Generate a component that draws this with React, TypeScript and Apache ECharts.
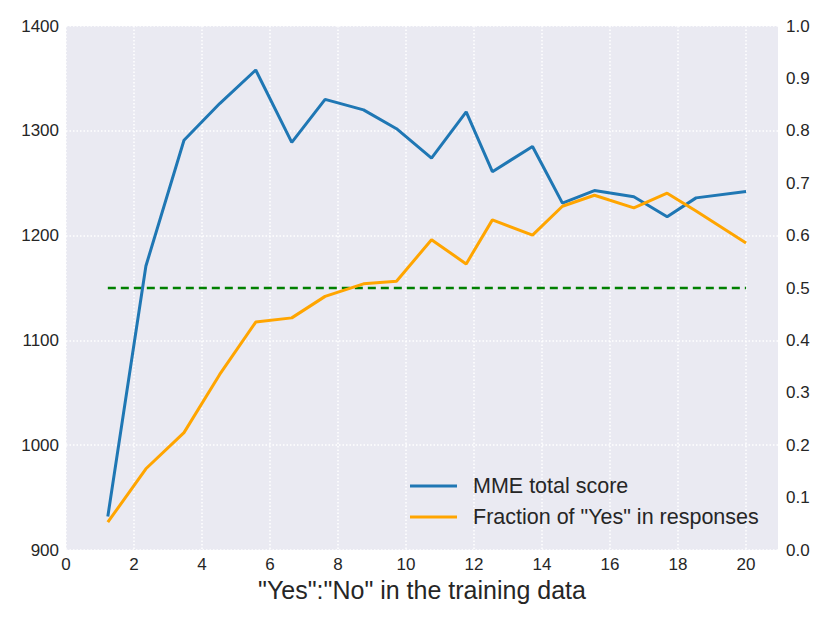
import React, { useEffect, useRef } from "react";
import * as echarts from "echarts";

const ratioX = [1.23, 2.35, 3.47, 4.52, 5.58, 6.64, 7.62, 8.75, 9.72, 10.75, 11.77, 12.54, 13.72, 14.16, 14.6, 15.54, 16.7, 17.68, 18.53, 20.0];
const mmeScore = [932, 1171, 1291, 1326, 1358, 1289, 1330, 1320, 1302, 1274, 1318, 1261, 1285, 1258, 1231, 1243, 1237, 1218, 1236, 1242];
const fracX = [1.23, 2.35, 3.47, 4.52, 5.58, 6.64, 7.62, 8.75, 9.72, 10.75, 11.77, 12.54, 13.72, 14.6, 15.54, 16.7, 17.68, 18.53, 20.0];
const fracYes = [0.053, 0.155, 0.224, 0.335, 0.435, 0.443, 0.484, 0.508, 0.513, 0.592, 0.546, 0.63, 0.601, 0.656, 0.677, 0.653, 0.681, 0.647, 0.586];
const refX = [1.23, 20.0];
const refY = [0.5, 0.5];

const seriesNames = ["MME total score", 'Fraction of "Yes" in responses'];
const xAxisTitle = '"Yes":"No" in the training data';

const FONT = "'Liberation Sans', Arial, sans-serif";
const TXT = "#262626";

export default function App() {
  const ref = useRef<HTMLDivElement>(null);
  useEffect(() => {
    if (!ref.current) return;
    const chart = echarts.init(ref.current, undefined, { renderer: "svg" });
    const gridLine = { show: true, lineStyle: { color: "#ffffff", width: 1.5, type: [1.5, 2] as any } };
    chart.setOption({
      animation: false,
      backgroundColor: "#ffffff",
      textStyle: { fontFamily: FONT },
      grid: {
        left: 66,
        right: 52,
        top: 26,
        bottom: 73,
        show: true,
        backgroundColor: "#eaeaf2",
        borderWidth: 0,
        containLabel: false,
      },
      legend: {
        orient: "vertical",
        left: 410,
        top: 474,
        padding: 0,
        icon: "rect",
        itemWidth: 47,
        itemHeight: 3,
        itemGap: 7,
        data: seriesNames,
        textStyle: { fontFamily: FONT, fontSize: 21.5, color: TXT, lineHeight: 24, padding: [0, 0, 0, 11] },
      },
      xAxis: {
        type: "value",
        min: 0,
        max: 20.94,
        interval: 2,
        name: xAxisTitle,
        nameLocation: "middle",
        nameGap: 24,
        nameTextStyle: { fontFamily: FONT, fontSize: 25, color: TXT, verticalAlign: "top" },
        axisLine: { show: false },
        axisTick: { show: false },
        axisLabel: { fontFamily: FONT, fontSize: 17, color: TXT, margin: 6, showMaxLabel: false },
        splitLine: { ...gridLine, showMaxLine: false },
      },
      yAxis: [
        {
          type: "value",
          min: 900,
          max: 1400,
          interval: 100,
          axisLine: { show: false },
          axisTick: { show: false },
          axisLabel: { fontFamily: FONT, fontSize: 17, color: TXT, margin: 7, formatter: (v: number) => String(v) },
          splitLine: gridLine,
        },
        {
          type: "value",
          min: 0,
          max: 1,
          interval: 0.1,
          position: "right",
          axisLine: { show: false },
          axisTick: { show: false },
          axisLabel: {
            fontFamily: FONT,
            fontSize: 17,
            color: TXT,
            margin: 8,
            formatter: (v: number) => v.toFixed(1),
          },
          splitLine: { show: false },
        },
      ],
      series: [
        {
          name: seriesNames[0],
          type: "line",
          yAxisIndex: 0,
          showSymbol: false,
          symbol: "none",
          color: "#1f77b4",
          lineStyle: { color: "#1f77b4", width: 3 },
          itemStyle: { color: "#1f77b4" },
          data: ratioX.map((x, i) => [x, mmeScore[i]]),
          z: 3,
        },
        {
          name: seriesNames[1],
          type: "line",
          yAxisIndex: 1,
          showSymbol: false,
          symbol: "none",
          color: "#ffa500",
          lineStyle: { color: "#ffa500", width: 3 },
          itemStyle: { color: "#ffa500" },
          data: fracX.map((x, i) => [x, fracYes[i]]),
          z: 4,
        },
        {
          name: "reference",
          type: "line",
          yAxisIndex: 1,
          showSymbol: false,
          symbol: "none",
          lineStyle: { color: "#008000", width: 2.6, type: [8, 5] },
          data: refX.map((x, i) => [x, refY[i]]),
          z: 2,
        },
      ],
    });
    return () => chart.dispose();
  }, []);
  return (
    <div
      ref={ref}
      style={{ position: "absolute", left: 0, top: 0, width: 830, height: 623 }}
    />
  );
}
